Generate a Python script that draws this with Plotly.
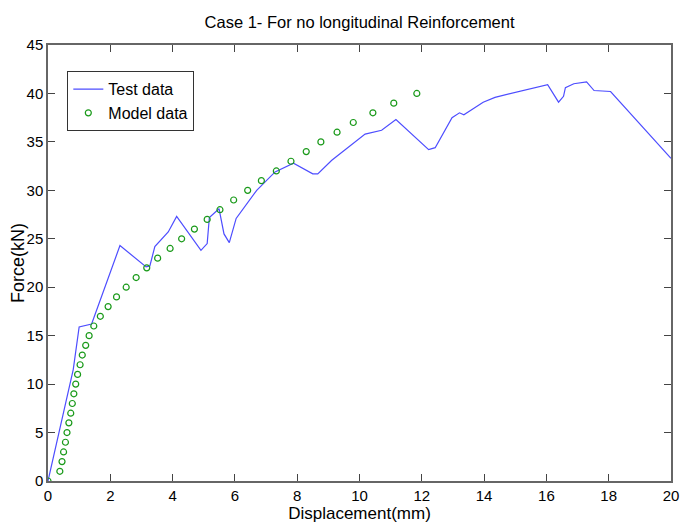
import plotly.graph_objects as go

# Test data (displacement mm, force kN)
test_x = [0.0, 0.81, 1.00, 1.40, 2.31, 3.15, 3.27, 3.43, 3.86, 4.13, 4.91, 5.11, 5.18,
          5.49, 5.65, 5.82, 6.04, 6.27, 6.70, 7.29, 7.88, 8.50, 8.66, 9.11, 9.75, 10.18,
          10.71, 11.17, 12.22, 12.43, 12.97, 13.21, 13.35, 13.97, 14.35, 15.22, 16.04,
          16.39, 16.55, 16.61, 16.88, 17.29, 17.53, 18.06, 20.0]
test_y = [0.0, 11.5, 15.9, 16.2, 24.3, 22.1, 22.2, 24.2, 25.7, 27.3, 23.8, 24.5, 27.2,
          28.1, 25.5, 24.6, 27.1, 28.1, 30.0, 31.9, 32.8, 31.7, 31.7, 33.1, 34.7, 35.8,
          36.2, 37.3, 34.2, 34.4, 37.5, 38.0, 37.8, 39.1, 39.6, 40.3, 40.9,
          39.1, 39.7, 40.6, 41.0, 41.2, 40.3, 40.2, 33.3]

# Model data
model_x = [0.0, 0.38, 0.45, 0.50, 0.56, 0.61, 0.67, 0.73, 0.78, 0.83, 0.89, 0.95, 1.03,
           1.10, 1.21, 1.32, 1.47, 1.68, 1.93, 2.20, 2.51, 2.83, 3.17, 3.52, 3.92, 4.29,
           4.70, 5.11, 5.52, 5.96, 6.41, 6.85, 7.33, 7.80, 8.29, 8.76, 9.28, 9.80, 10.43,
           11.10, 11.84]
model_y = list(range(0, 41))

x_ticks = [0, 2, 4, 6, 8, 10, 12, 14, 16, 18, 20]
y_ticks = [0, 5, 10, 15, 20, 25, 30, 35, 40, 45]

FONT = "Liberation Sans, Arial, sans-serif"

fig = go.Figure()
fig.add_trace(go.Scatter(
    x=test_x, y=test_y, mode="lines", name="Test data",
    line=dict(color="#4d4dff", width=1.2),
))
fig.add_trace(go.Scatter(
    x=model_x, y=model_y, mode="markers", name="Model data",
    marker=dict(symbol="circle-open", size=6, color="#1a9a1a", line=dict(width=1.2)),
))

axis_common = dict(
    showgrid=False, zeroline=False, showline=True, mirror="allticks",
    linecolor="#666666", linewidth=1.5, ticks="inside", ticklen=7,
    tickcolor="#444444", tickwidth=1, automargin=False,
    tickfont=dict(family=FONT, size=15, color="black"),
)

fig.update_layout(
    width=681, height=527,
    margin=dict(l=48, r=10, t=45, b=46),
    paper_bgcolor="white", plot_bgcolor="white",
    title=dict(text="Case 1- For no longitudinal Reinforcement", x=0.528, xanchor="center",
               y=0.958, yanchor="middle",
               font=dict(family=FONT, size=16.5, color="black")),
    xaxis=dict(range=[0, 20], tickvals=x_ticks, ticktext=[str(v) for v in x_ticks],
               title=dict(text="Displacement(mm)", standoff=3,
                          font=dict(family=FONT, size=17, color="black")),
               **axis_common),
    yaxis=dict(range=[0, 45], tickvals=y_ticks, ticktext=[str(v) for v in y_ticks],
               **axis_common),
    legend=dict(x=0.031, y=0.94, xanchor="left", yanchor="top",
                bgcolor="white", bordercolor="#333333", borderwidth=1,
                font=dict(family=FONT, size=16, color="black"),
                itemwidth=30, tracegroupgap=0),
    showlegend=True,
    annotations=[dict(text="Force(kN)", textangle=-90, showarrow=False,
                      xref="paper", yref="paper", x=-0.048, y=0.5,
                      xanchor="center", yanchor="middle",
                      font=dict(family=FONT, size=18, color="black"))],
)

fig.write_html("out.html")
